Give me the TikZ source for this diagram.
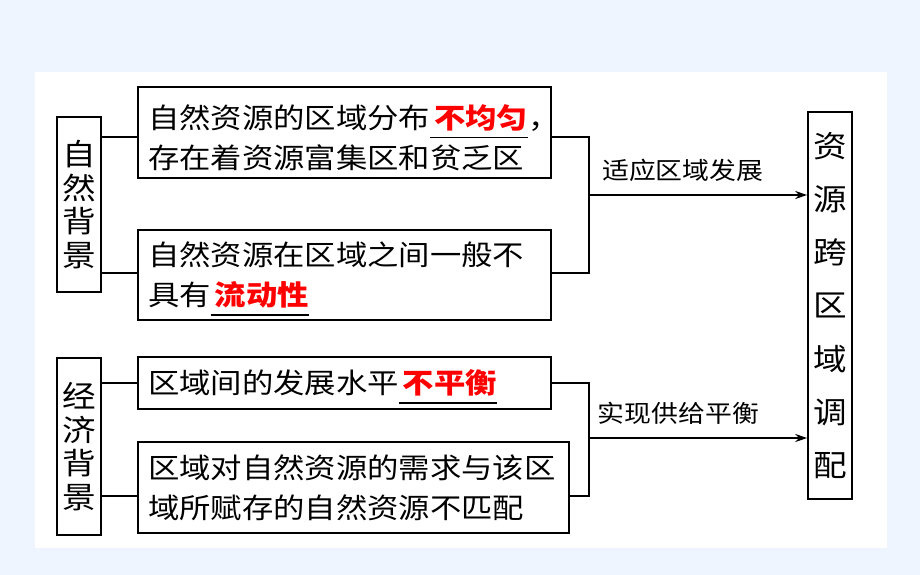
\documentclass[tikz,border=0pt]{standalone}
\usepackage{fontspec}
\usetikzlibrary{positioning}
\usetikzlibrary{arrows,arrows.meta,shapes}
\usetikzlibrary{calc}
\newfontfamily\cjk[FakeStretch=1.12]{Noto Sans CJK SC}
\definecolor{slidebg}{HTML}{EEF5FE}
% red answer written on a blank line
\newcommand{\fillin}[1]{\setbox0\hbox{\hspace{4pt}\textcolor{red}{\bfseries #1}}\rlap{\smash{\rule[-10pt]{\wd0}{1.5pt}}}\box0}
\tikzstyle{textbox}=[draw,line width=1.6pt,rectangle,inner xsep=10pt,inner ysep=0pt,align=left,font=\cjk\fontsize{28}{40}\selectfont]
\tikzstyle{sidebox}=[draw,line width=1.6pt,rectangle,inner sep=0pt,align=center,font=\cjk\fontsize{30}{33.5}\selectfont]
\tikzstyle{link} = [draw,line width=1.6pt]
\tikzstyle{flow} = [draw,line width=1.6pt,-{Stealth[length=12pt,width=8pt]}]
\tikzstyle{flowlabel} = [inner sep=2pt,font=\cjk\fontsize{24}{28}\selectfont]

\begin{document}
\begin{tikzpicture}[x=1pt,y=-1pt]

    % slide background
    \useasboundingbox (0,0) rectangle (920,575);
    \fill[slidebg] (0,0) rectangle (920,575);
    \fill[white] (35,72) rectangle (887,548);

    % First we draw the boxes on the left
    \node[sidebox, minimum width=44pt, minimum height=175pt] (nat) at (79,204.5) {自\\然\\背\\景};
    \node[sidebox, minimum width=44pt, minimum height=177pt] (econ) at (79,446.5) {经\\济\\背\\景};

    \node[textbox, text width=393pt, minimum height=91pt] (A) at (344.5,132.5) {\rule{0pt}{34pt}自然资源的区域分布\fillin{不均匀}，\\存在着资源富集区和贫乏区};
    \node[textbox, text width=393pt, minimum height=90pt] (B) at (344.5,275) {自然资源在区域之间一般不\\具有\fillin{流动性}};
    \node[textbox, text width=393pt, minimum height=52pt] (C) at (344.5,383) {区域间的发展水平\fillin{不平衡}};
    \node[textbox, text width=411pt, minimum height=91pt] (D) at (353.5,487.5) {区域对自然资源的需求与该区\\域所赋存的自然资源不匹配};

    % the result box
    \node[sidebox, font=\cjk\fontsize{30}{53.3}\selectfont, minimum width=44pt, minimum height=387pt] (R) at (830,305.5) {资\\源\\跨\\区\\域\\调\\配};

    % Connect the left boxes with the text boxes
    \foreach \dest/\src/\dy in {A/nat/-4.5, B/nat/2, C/econ/0, D/econ/-8.5}
        \path[link] ([yshift=\dy pt]\dest.west -| \src.east) -- ([yshift=\dy pt]\dest.west);

    % join the pairs and lead them to the result
    \coordinate (j1) at (589,195);
    \coordinate (j2) at (589,438);
    \path[link] ([yshift=-4.5pt]A.east) -| (j1) |- ([yshift=2pt]B.east);
    \path[link] (C.east) -| (j2) |- ([yshift=-8.5pt]D.east);

    \path[flow] (j1) -- (j1 -| R.west) node[flowlabel, pos=0.43, above=11pt] {适应区域发展};
    \path[flow] (j2) -- (j2 -| R.west) node[flowlabel, pos=0.41, above=11pt] {实现供给平衡};

\end{tikzpicture}
\end{document}
